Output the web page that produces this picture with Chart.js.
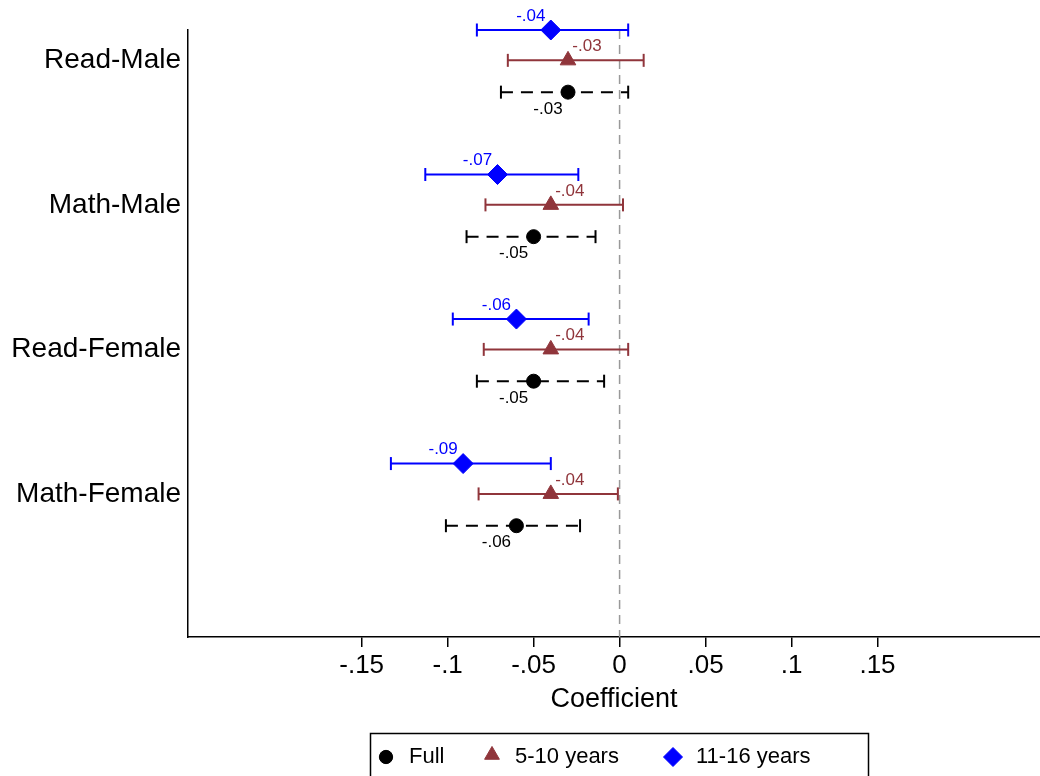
<!DOCTYPE html>
<html>
<head>
<meta charset="utf-8">
<script src="https://cdn.jsdelivr.net/npm/chart.js"></script>
<style>
  html, body { margin: 0; padding: 0; background: #fff; }
  canvas { display: block; }
</style>
</head>
<body>
<canvas id="coefChart" width="1040" height="776"></canvas>
<script>
// outcome groups, top to bottom
const categories = ['Read-Male', 'Math-Male', 'Read-Female', 'Math-Female'];
const seriesNames = ['Full', '5-10 years', '11-16 years'];

// point estimates and CI bounds
const fullCoef = [-0.030, -0.050, -0.050, -0.060];
const fullLo   = [-0.069, -0.089, -0.083, -0.101];
const fullHi   = [0.005, -0.014, -0.009, -0.023];

const youngCoef = [-0.030, -0.040, -0.040, -0.040];
const youngLo   = [-0.065, -0.078, -0.079, -0.082];
const youngHi   = [0.014, 0.002, 0.005, -0.001];

const oldCoef = [-0.040, -0.071, -0.060, -0.091];
const oldLo   = [-0.083, -0.113, -0.097, -0.133];
const oldHi   = [0.005, -0.024, -0.018, -0.040];

const xTicks = [-0.15, -0.1, -0.05, 0, 0.05, 0.1, 0.15];

const FONT = '"Liberation Sans", Arial, Helvetica, sans-serif';
const BLUE = '#0000ff';
const BROWN = 'rgb(144,53,59)';
const BLACK = '#000000';

// stata style: drop the leading zero
function fmt(v) {
  let s = String(+v.toFixed(2));
  return s.replace(/^(-?)0\./, '$1.');
}

function pointData(coef, shift) {
  return coef.map((c, i) => ({ x: c, y: i + 1 + shift }));
}

function barData(lo, hi, shift) {
  const pts = [];
  lo.forEach((l, i) => {
    pts.push({ x: l, y: i + 1 + shift }, { x: hi[i], y: i + 1 + shift }, { x: null, y: null });
  });
  return pts;
}

function barSet(lo, hi, shift, color, dash) {
  return {
    data: barData(lo, hi, shift),
    showLine: true,
    clip: false,
    borderColor: color,
    borderWidth: 2,
    borderDash: dash,
    pointStyle: 'line',
    rotation: 90,
    pointRadius: 6.5,
    pointBorderWidth: 2,
    pointBorderColor: color,
    spanGaps: false
  };
}

function markSet(coef, shift, color, style, r, label, lbl) {
  return {
    label: label,
    data: pointData(coef, shift),
    clip: false,
    pointStyle: style,
    pointRadius: r,
    backgroundColor: color,
    borderColor: color,
    pointBackgroundColor: color,
    pointBorderColor: color,
    pointBorderWidth: 1,
    valueLabel: lbl
  };
}

const valueLabels = {
  id: 'valueLabels',
  afterDatasetsDraw(chart) {
    const ctx = chart.ctx;
    chart.data.datasets.forEach((ds, di) => {
      if (!ds.valueLabel) return;
      const meta = chart.getDatasetMeta(di);
      ctx.save();
      ctx.font = '17px ' + FONT;
      ctx.fillStyle = ds.backgroundColor;
      ctx.textAlign = 'center';
      ctx.textBaseline = 'middle';
      meta.data.forEach((pt, i) => {
        ctx.fillText(fmt(ds.data[i].x), pt.x + ds.valueLabel.dx, pt.y + ds.valueLabel.dy);
      });
      ctx.restore();
    });
  }
};

// boxed legend under the axis title
const boxLegend = {
  id: 'boxLegend',
  afterDraw(chart) {
    const ctx = chart.ctx;
    const markX = [386, 492, 673];
    const y = 757;
    ctx.save();
    ctx.strokeStyle = '#000';
    ctx.lineWidth = 1.5;
    ctx.strokeRect(370.5, 733.5, 498, 60);
    ctx.font = '22px ' + FONT;
    ctx.textBaseline = 'middle';
    ctx.textAlign = 'left';
    chart.data.datasets.filter(d => d.label).forEach((ds, i) => {
      const x = markX[i];
      ctx.fillStyle = ds.backgroundColor;
      ctx.strokeStyle = ds.backgroundColor;
      ctx.lineWidth = 1;
      Chart.helpers.drawPoint(ctx, { pointStyle: ds.pointStyle, radius: ds.pointRadius * 0.95, borderWidth: 1, rotation: 0 }, x, y - (ds.pointStyle === 'triangle' ? 2 : 0));
      ctx.fillStyle = '#000';
      ctx.fillText(ds.label, x + 23, y);
    });
    ctx.restore();
  }
};

Chart.defaults.font.family = FONT;
Chart.defaults.color = '#000';

new Chart(document.getElementById('coefChart'), {
  type: 'scatter',
  data: {
    datasets: [
      markSet(fullCoef, 0.22, BLACK, 'circle', 7, seriesNames[0], { dx: -20, dy: 17 }),
      markSet(youngCoef, 0, BROWN, 'triangle', 9, seriesNames[1], { dx: 19, dy: -14 }),
      markSet(oldCoef, -0.21, BLUE, 'rectRot', 10, seriesNames[2], { dx: -20, dy: -14 }),
      barSet(fullLo, fullHi, 0.22, BLACK, [12, 8]),
      barSet(youngLo, youngHi, 0, BROWN, []),
      barSet(oldLo, oldHi, -0.21, BLUE, []),
      {
        data: [{ x: 0, y: 0.79 }, { x: 0, y: 4.99 }],
        showLine: true,
        borderColor: '#999999',
        borderWidth: 1.5,
        borderDash: [9, 6],
        pointRadius: 0
      }
    ]
  },
  options: {
    responsive: false,
    animation: false,
    events: [],
    layout: { autoPadding: false, padding: { top: 30, right: 0, left: 0, bottom: 60 } },
    plugins: {
      legend: { display: false },
      tooltip: { enabled: false }
    },
    scales: {
      x: {
        type: 'linear',
        min: -0.251,
        max: 0.2445,
        afterBuildTicks: s => { s.ticks = xTicks.map(v => ({ value: v })); },
        afterFit: s => { s.height = 79; s.paddingLeft = 0; s.paddingRight = 0; },
        ticks: {
          font: { size: 26 },
          padding: 3,
          callback: v => fmt(v)
        },
        grid: { drawOnChartArea: false, drawTicks: true, tickLength: 10, color: '#000', lineWidth: 1.5 },
        border: { display: true, color: '#000', width: 1.5 },
        title: { display: true, text: 'Coefficient', font: { size: 27 }, padding: { top: 0, bottom: 0 } }
      },
      y: {
        type: 'linear',
        reverse: true,
        min: 0.79,
        max: 4.99,
        afterBuildTicks: s => { s.ticks = categories.map((c, i) => ({ value: i + 1 })); },
        afterFit: s => { s.width = 188; s.paddingTop = 0; s.paddingBottom = 0; },
        ticks: {
          font: { size: 28 },
          padding: 7,
          callback: v => categories[v - 1] || ''
        },
        grid: { drawOnChartArea: false, drawTicks: false },
        border: { display: true, color: '#000', width: 1.5 }
      }
    }
  },
  plugins: [valueLabels, boxLegend]
});
</script>
</body>
</html>
